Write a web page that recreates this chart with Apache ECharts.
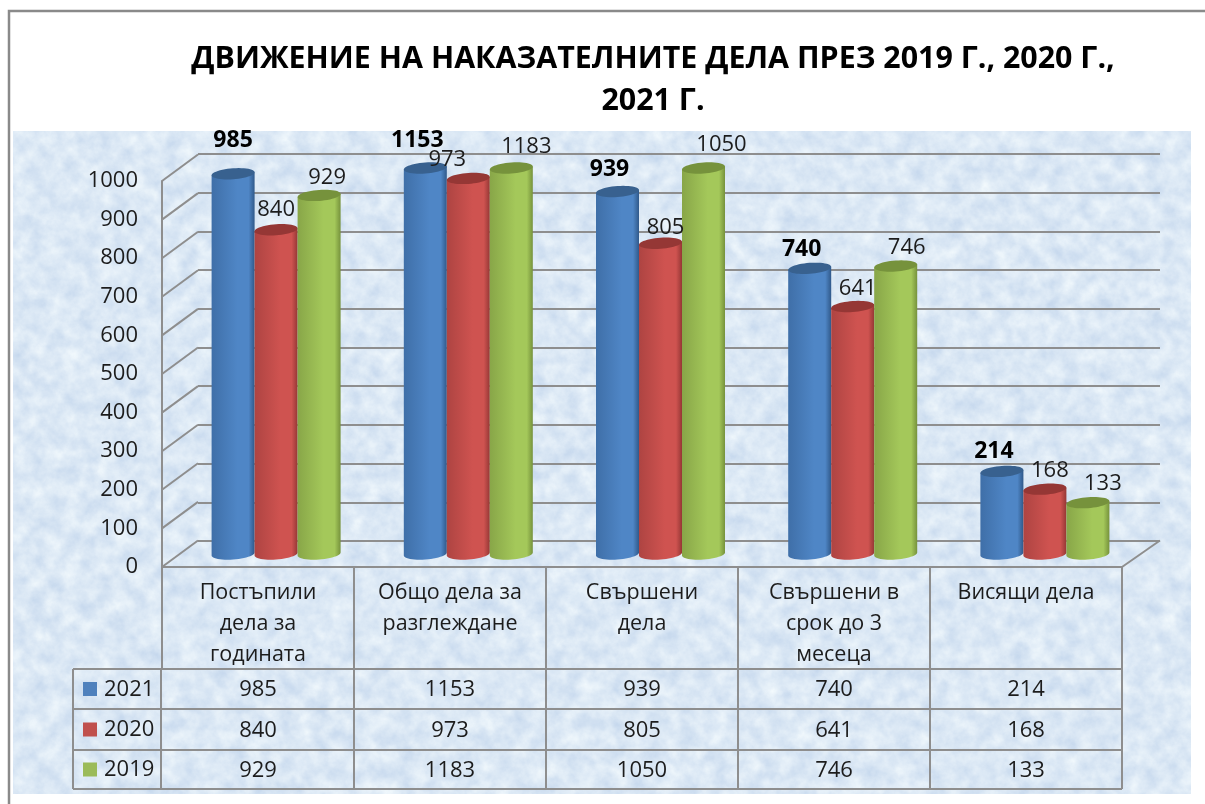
<!DOCTYPE html>
<html><head><meta charset="utf-8">
<script src="https://cdn.jsdelivr.net/npm/echarts@6/dist/echarts.min.js"></script>
<style>
html,body{margin:0;padding:0;background:#fff;}
#wrap{position:relative;width:1205px;height:804px;overflow:hidden;}
#tex{position:absolute;left:13px;top:131px;width:1178px;height:663px;
background-image:url("data:image/svg+xml;utf8,<svg xmlns='http://www.w3.org/2000/svg' width='1178' height='663'><filter id='n' color-interpolation-filters='sRGB' x='0' y='0' width='100%' height='100%'><feTurbulence type='fractalNoise' baseFrequency='0.06' numOctaves='5' seed='7'/><feColorMatrix type='matrix' values='0.20 0 0 0 0.76  0.15 0 0 0 0.835  0.07 0 0 0 0.925  0 0 0 0 1'/></filter><rect width='1178' height='663' filter='url(%23n)'/></svg>");}
#c{position:absolute;left:0;top:0;width:1205px;height:804px;}
</style></head><body>
<div id="wrap"><div id="tex"></div><div id="c"></div></div>
<script>
const titleText = 'ДВИЖЕНИЕ НА НАКАЗАТЕЛНИТЕ ДЕЛА ПРЕЗ 2019 Г., 2020 Г.,\n2021 Г.';
const categories = ['Постъпили\nдела за\nгодината','Общо дела за\nразглеждане','Свършени\nдела','Свършени в\nсрок до 3\nмесеца','Висящи дела'];
const years = ['2021','2020','2019'];
const values2021 = [985,1153,939,740,214];
const values2020 = [840,973,805,641,168];
const values2019 = [929,1183,1050,746,133];
const yTicks = [0,100,200,300,400,500,600,700,800,900,1000];

const FONT = '"Open Sans","Noto Sans",sans-serif';
const GRAY = '#8e8e8e', INK = '#1c1c1c';
const seriesValues = [values2021, values2020, values2019];
const palette = [
 {l:'#3f6fa8', m:'#4f86c6', r:'#30598a', top:'#38618f', sw:'#4f81bd'},
 {l:'#ae4442', m:'#cf5350', r:'#953735', top:'#953735', sw:'#c0504d'},
 {l:'#88a648', m:'#a4c85a', r:'#76923c', top:'#76923c', sw:'#9bbb59'}
];
// label nudges relative to each bar top (layout only)
const labelDx = [[0,-8,-8,-8,-8],[0,-21,5,5,5],[8,15,18,11,15]];
const labelDy = [[-33,-28,-22,-19,-20],[-20,-19,-16,-18,-18],[-18,-21,-23,-18,-19]];
const DEPTH_X = 36, DEPTH_Y = -26.5, BAR_W = 43, RY = 5.5, TILT = 1.5;
const rowY = [669,709,750,789], tableLeft = 73, keyRight = 161;

function ell(cx,cy,a,b){const p=[];for(a=a;a<=b+1e-6;a+=Math.PI/24){p.push([cx+BAR_W/2*Math.cos(a),cy+RY*Math.sin(a)-TILT*Math.cos(a)]);}return p;}
function cylinder(si){
  return function(params,api){
    const i=api.value(0), v=api.value(1);
    const top=api.coord([i,Math.min(v,1000)]), base=api.coord([i,0]);
    const cx=top[0]+(si-1)*BAR_W;
    const body=ell(cx,base[1],0,Math.PI).concat(ell(cx,top[1],Math.PI,Math.PI));
    body.push([cx+BAR_W/2,top[1]-TILT]);
    const c=palette[si];
    return {type:'group',children:[
      {type:'polygon',shape:{points:body},style:{fill:{type:'linear',x:0,y:0,x2:1,y2:0,colorStops:[
        {offset:0,color:c.l},{offset:.6,color:c.m},{offset:.86,color:c.m},{offset:1,color:c.r}]}}},
      {type:'polygon',shape:{points:ell(cx,top[1],0,Math.PI*2)},style:{fill:c.top}},
      {type:'text',z2:20,style:{text:String(v),x:cx+labelDx[si][i],y:top[1]+labelDy[si][i],align:'center',verticalAlign:'middle',
        font:(si===0?'bold 23px ':'22px ')+FONT,fill:si===0?'#000':INK}}
    ]};
  };
}
const barSeries = years.map((y,si)=>({
  name:y,type:'custom',xAxisIndex:0,yAxisIndex:0,clip:false,encode:{x:0,y:1},
  data:seriesValues[si].map((v,i)=>[i,v]),renderItem:cylinder(si),z:5
}));
const wallSeries = {type:'custom',xAxisIndex:1,yAxisIndex:1,clip:false,silent:true,z:1,encode:{y:0},
  data:yTicks.map(t=>[t]),
  renderItem(p,api){
    const a=api.coord([0,api.value(0)]);
    a[0]=p.coordSys.x;
    const kids=[{type:'line',shape:{x1:a[0],y1:a[1],x2:a[0]+DEPTH_X,y2:a[1]+DEPTH_Y},style:{stroke:GRAY,lineWidth:2}}];
    if(api.value(0)===0){const x=p.coordSys.x+p.coordSys.width;
      kids.push({type:'line',shape:{x1:x,y1:a[1],x2:x+DEPTH_X+2,y2:a[1]+DEPTH_Y},style:{stroke:GRAY,lineWidth:2}});}
    return {type:'group',children:kids};
  }};
// data table under the chart
const tableSeries = years.map((y,si)=>({
  name:'table '+y,type:'custom',xAxisIndex:1,yAxisIndex:1,clip:false,silent:true,z:3,encode:{x:0},
  data:seriesValues[si].map((v,i)=>[i,v]),
  renderItem(p,api){
    const i=api.value(0),x=api.coord([i,0])[0],y0=rowY[si],y1=rowY[si+1],cs=p.coordSys,mid=(y0+y1)/2;
    const kids=[{type:'text',style:{text:String(api.value(1)),x:x,y:mid+1,align:'center',verticalAlign:'middle',font:'22px '+FONT,fill:INK}}];
    const ln=(a,b,c,d)=>({type:'line',shape:{x1:a,y1:b,x2:c,y2:d},style:{stroke:GRAY,lineWidth:2}});
    kids.push(ln(x+cs.width/10,y0,x+cs.width/10,y1));
    if(i===0){
      kids.push(ln(tableLeft,y0,cs.x+cs.width,y0),ln(tableLeft,y1,cs.x+cs.width,y1),ln(tableLeft,y0,tableLeft,y1),ln(keyRight,y0,keyRight,y1));
      kids.push({type:'rect',shape:{x:83,y:mid-7,width:14,height:14},style:{fill:palette[si].sw}});
      kids.push({type:'text',style:{text:years[si],x:104,y:mid+0.5,align:'left',verticalAlign:'middle',font:'22px '+FONT,fill:INK}});
    }
    return {type:'group',children:kids};
  }}));

const chart = echarts.init(document.getElementById('c'),null,{renderer:'canvas',width:1205,height:804});
chart.setOption({
  animation:false,backgroundColor:'transparent',
  title:{text:titleText,left:652,textAlign:'center',top:33,
    textStyle:{fontFamily:FONT,fontWeight:'bold',fontSize:30.4,lineHeight:42,color:'#000'}},
  graphic:[{type:'polyline',z:0,shape:{points:[[9,804],[9,11],[1205,11]]},style:{stroke:'#8a8a8a',fill:null,lineWidth:2.5}}],
  grid:[
    {left:180,top:168,width:961,height:386},
    {left:162,top:181,width:960,height:386},
    {left:198,top:154,width:962,height:387}
  ],
  xAxis:[
    {gridIndex:0,type:'category',data:categories,show:false},
    {gridIndex:1,type:'category',data:categories,
      axisLine:{show:true,lineStyle:{color:GRAY,width:2}},
      axisTick:{show:true,length:102,alignWithLabel:false,lineStyle:{color:GRAY,width:2}},
      axisLabel:{interval:0,margin:10,color:INK,fontFamily:FONT,fontSize:21.5,lineHeight:31,verticalAlign:'top'}},
    {gridIndex:2,type:'category',data:categories,show:false}
  ],
  yAxis:[
    {gridIndex:0,type:'value',min:0,max:1000,show:false,splitLine:{show:false}},
    {gridIndex:1,type:'value',min:0,max:1000,interval:100,
      axisLine:{show:true,lineStyle:{color:GRAY,width:2}},axisTick:{show:false},splitLine:{show:false},
      axisLabel:{margin:24,color:INK,fontFamily:FONT,fontSize:22,padding:[5,0,0,0],formatter:v=>String(v)}},
    {gridIndex:2,type:'value',min:0,max:1000,interval:100,
      axisLine:{show:false},axisTick:{show:false},axisLabel:{show:false},
      splitLine:{show:true,lineStyle:{color:GRAY,width:2,type:'solid'}}}
  ],
  series:[wallSeries].concat(barSeries,tableSeries)
});
chart.setOption({title:{left:648}});
</script></body></html>
